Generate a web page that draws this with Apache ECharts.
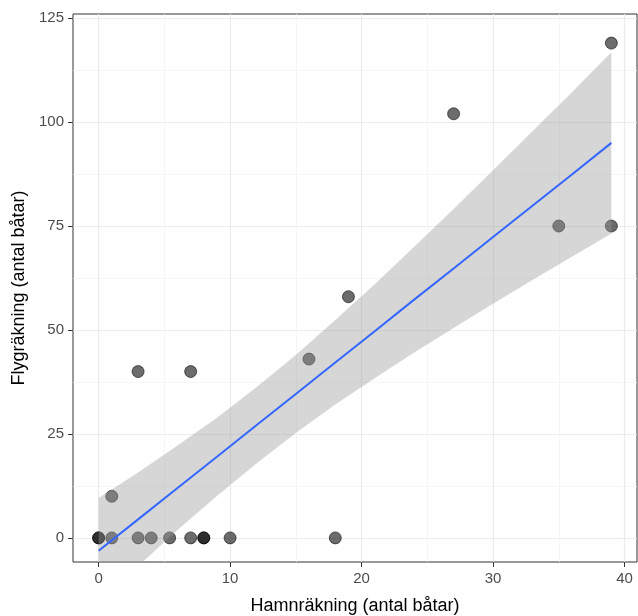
<!DOCTYPE html>
<html>
<head>
<meta charset="utf-8">
<script src="https://cdn.jsdelivr.net/npm/echarts@6/dist/echarts.min.js"></script>
<style>
  html, body { margin: 0; background: #fff; }
  #chart { width: 638px; height: 616px; }
</style>
</head>
<body>
<div id="chart"></div>
<script>
// punkter: hamnräkning (x) mot flygräkning (y)
var hamn = [0, 0, 1, 1, 3, 3, 4, 5.4, 7, 7, 8, 8, 10, 16, 18, 19, 27, 35, 39, 39];
var flyg = [0, 0, 10, 0, 40, 0, 0, 0, 40, 0, 0, 0, 0, 43, 0, 58, 102, 75, 75, 119];

// regressionslinje och konfidensband
var fitX   = [0, 3, 6, 9, 12, 15, 18, 21, 24, 27, 30, 33, 36, 39];
var fitY   = [-3.1, 4.45, 12.0, 19.5, 27.1, 34.6, 42.2, 49.7, 57.3, 64.8, 72.35, 79.9, 87.4, 95.0];
var upperY = [9.6, 15.7, 22.2, 28.9, 36.2, 44.0, 52.4, 61.0, 70.0, 79.1, 88.4, 97.8, 107.2, 116.8];
var lowerY = [-15.8, -6.8, 1.9, 10.1, 17.9, 25.2, 32.1, 38.4, 44.6, 50.5, 56.3, 62.0, 67.6, 73.2];

// axlar
var xTicks = [0, 10, 20, 30, 40];
var xMinor = [5, 15, 25, 35];
var yTicks = [0, 25, 50, 75, 100, 125];
var yMinor = [12.5, 37.5, 62.5, 87.5, 112.5];

var chart = echarts.init(document.getElementById('chart'), null, { renderer: 'canvas' });

var labelFont = 'Liberation Sans, Arial, sans-serif';

function majorAxis(ticks, name, gap) {
  return {
    type: 'value',
    name: name,
    nameLocation: 'middle',
    nameGap: gap,
    nameTextStyle: { color: '#000', fontSize: 18, fontFamily: labelFont },
    axisLine: { show: false, onZero: false },
    axisTick: { show: true, customValues: ticks, length: 5, lineStyle: { color: '#333', width: 1 } },
    axisLabel: { customValues: ticks, color: '#4d4d4d', fontSize: 15, fontFamily: labelFont, margin: 9 },
    splitLine: { show: true, lineStyle: { color: '#ebebeb', width: 1.2 } }
  };
}

function minorAxis(ticks) {
  return {
    type: 'value',
    axisLine: { show: false, onZero: false },
    axisTick: { show: false, customValues: ticks },
    axisLabel: { show: false, customValues: ticks },
    splitLine: { show: true, lineStyle: { color: '#f4f4f4', width: 0.8 } }
  };
}

var xMain = majorAxis(xTicks, 'Hamnräkning (antal båtar)', 35);
xMain.min = -1.95; xMain.max = 40.95;
xMain.position = 'bottom';
var xSub = minorAxis(xMinor);
xSub.min = -1.95; xSub.max = 40.95;
xSub.position = 'bottom';

var yMain = majorAxis(yTicks, 'Flygräkning (antal båtar)', 38);
yMain.min = -5.8; yMain.max = 126;
yMain.position = 'left';
var ySub = minorAxis(yMinor);
ySub.min = -5.8; ySub.max = 126;
ySub.position = 'left';

var points = hamn.map(function (x, i) { return [x, flyg[i]]; });
var line = fitX.map(function (x, i) { return [x, fitY[i]]; });
var band = fitX.map(function (x, i) { return [x, lowerY[i], upperY[i]]; });

var option = {
  animation: false,
  backgroundColor: '#fff',
  grid: {
    left: 73, right: 1, top: 14, bottom: 54,
    show: true,
    backgroundColor: '#fff',
    borderColor: '#333',
    borderWidth: 1,
    containLabel: false,
    outerBoundsMode: 'none'
  },
  xAxis: [xSub, xMain],
  yAxis: [ySub, yMain],
  series: [
    {
      type: 'scatter',
      xAxisIndex: 1, yAxisIndex: 1,
      data: points,
      symbolSize: 12,
      z: 2,
      itemStyle: { color: 'rgba(0,0,0,0.72)', borderColor: 'rgba(0,0,0,0.72)', borderWidth: 1 }
    },
    {
      // konfidensband ovanpå punkterna (som i ggplot)
      type: 'custom',
      xAxisIndex: 1, yAxisIndex: 1,
      data: band,
      clip: true,
      z: 3,
      silent: true,
      renderItem: function (params, api) {
        if (params.dataIndex !== 0) return null;
        var pts = [];
        for (var i = 0; i < band.length; i++) pts.push(api.coord([band[i][0], band[i][2]]));
        for (var j = band.length - 1; j >= 0; j--) pts.push(api.coord([band[j][0], band[j][1]]));
        return {
          type: 'polygon',
          shape: { points: pts },
          style: { fill: 'rgba(153,153,153,0.4)' }
        };
      }
    },
    {
      type: 'line',
      xAxisIndex: 1, yAxisIndex: 1,
      data: line,
      showSymbol: false,
      z: 4,
      lineStyle: { color: '#3366FF', width: 2 }
    }
  ]
};

chart.setOption(option);
</script>
</body>
</html>
